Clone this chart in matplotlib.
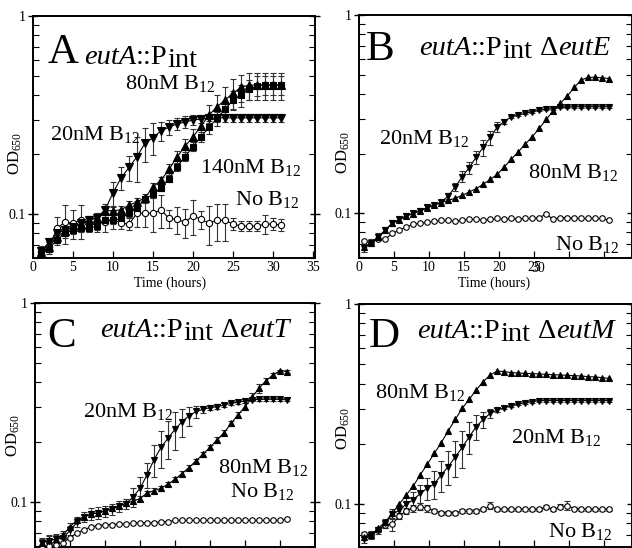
import matplotlib
matplotlib.use("Agg")
import matplotlib.pyplot as plt
from matplotlib.ticker import LogLocator, NullFormatter, FixedLocator, FixedFormatter

plt.rcParams['font.family'] = ['Liberation Serif', 'DejaVu Serif']
plt.rcParams['mathtext.fontset'] = 'custom'
plt.rcParams['mathtext.rm'] = 'Liberation Serif'
plt.rcParams['mathtext.it'] = 'Liberation Serif:italic'

# ---------------- data ----------------
A_t = list(range(1, 32))
A_140 = [0.063, 0.067, 0.074, 0.080, 0.083, 0.085, 0.085, 0.087, 0.093, 0.093, 0.095, 0.101, 0.107,
         0.119, 0.126, 0.136, 0.151, 0.173, 0.195, 0.219, 0.246, 0.274, 0.304, 0.338, 0.376, 0.399,
         0.426, 0.445, 0.448, 0.448, 0.448]
A_140_err = [0.004, 0.004, 0.004, 0.004, 0.004, 0.004, 0.004, 0.004, 0.004, 0.004, 0.004, 0.004, 0.005,
             0.005, 0.005, 0.005, 0.006, 0.008, 0.010, 0.012, 0.015, 0.020, 0.025, 0.030, 0.040, 0.050,
             0.050, 0.050, 0.050, 0.050, 0.050]
A_80 = [0.064, 0.068, 0.077, 0.082, 0.086, 0.088, 0.093, 0.096, 0.104, 0.104, 0.105, 0.111, 0.115,
        0.121, 0.137, 0.148, 0.168, 0.194, 0.220, 0.245, 0.278, 0.316, 0.348, 0.376, 0.408, 0.436,
        0.448, 0.448, 0.448, 0.448, 0.448]
A_80_err = [0.004, 0.004, 0.004, 0.004, 0.004, 0.004, 0.005, 0.005, 0.005, 0.005, 0.005, 0.005, 0.005,
            0.006, 0.006, 0.006, 0.010, 0.015, 0.020, 0.025, 0.030, 0.040, 0.050, 0.060, 0.070, 0.070,
            0.070, 0.070, 0.070, 0.070, 0.070]
A_20 = [0.065, 0.072, 0.080, 0.083, 0.086, 0.090, 0.093, 0.096, 0.105, 0.128, 0.152, 0.172, 0.195,
        0.228, 0.243, 0.263, 0.275, 0.285, 0.292, 0.298, 0.302, 0.304, 0.306, 0.306, 0.306, 0.306,
        0.306, 0.306, 0.306, 0.306, 0.306]
A_20_err = [0.004, 0.004, 0.004, 0.004, 0.004, 0.004, 0.004, 0.004, 0.008, 0.018, 0.020, 0.025, 0.050,
            0.045, 0.045, 0.030, 0.023, 0.020, 0.020, 0.018, 0.015, 0.015, 0.015, 0.015, 0.015, 0.015,
            0.015, 0.015, 0.015, 0.015, 0.015]
A_0 = [0.064, 0.068, 0.085, 0.091, 0.090, 0.093, 0.090, 0.091, 0.091, 0.094, 0.090, 0.089, 0.101,
       0.101, 0.101, 0.105, 0.095, 0.094, 0.091, 0.098, 0.094, 0.090, 0.093, 0.093, 0.089, 0.087,
       0.087, 0.087, 0.089, 0.089, 0.088]
A_0_err = [0.004, 0.004, 0.012, 0.020, 0.015, 0.018, 0.008, 0.010, 0.010, 0.010, 0.006, 0.006, 0.015,
           0.015, 0.020, 0.020, 0.010, 0.015, 0.015, 0.020, 0.010, 0.020, 0.020, 0.020, 0.006, 0.005,
           0.005, 0.005, 0.010, 0.006, 0.006]

B_t = [0.75, 1.75, 2.75, 3.75, 4.75, 5.75, 6.75, 7.75, 8.75, 9.75, 10.75, 11.75, 12.75, 13.75, 14.75,
       15.75, 16.75, 17.75, 18.75, 19.75, 20.75, 21.75, 22.75, 23.75, 24.75, 25.75, 26.75, 27.75,
       28.75, 29.75, 30.75, 31.75, 32.75, 33.75, 34.75, 35.75]
B_80 = [0.0676, 0.0708, 0.0759, 0.0820, 0.0887, 0.0929, 0.0966, 0.0996, 0.103, 0.106, 0.110, 0.113,
        0.116, 0.119, 0.123, 0.128, 0.133, 0.140, 0.148, 0.157, 0.171, 0.187, 0.204, 0.223, 0.243,
        0.268, 0.297, 0.329, 0.358, 0.390, 0.431, 0.470, 0.485, 0.485, 0.482, 0.478]
B_20 = [0.067, 0.071, 0.076, 0.082, 0.089, 0.093, 0.097, 0.100, 0.103, 0.107, 0.110, 0.114, 0.122,
        0.136, 0.153, 0.170, 0.192, 0.215, 0.241, 0.272, 0.290, 0.306, 0.313, 0.319, 0.325, 0.331,
        0.334, 0.337, 0.342, 0.342, 0.344, 0.344, 0.344, 0.344, 0.344, 0.344]
B_20_err = [0.003, 0.003, 0.003, 0.003, 0.003, 0.003, 0.003, 0.003, 0.003, 0.003, 0.003, 0.003, 0.004,
            0.006, 0.010, 0.012, 0.015, 0.020, 0.020, 0.015, 0.008, 0.005, 0.004, 0.004, 0.004, 0.004,
            0.004, 0.004, 0.004, 0.004, 0.004, 0.004, 0.004, 0.004, 0.004, 0.004]
B_0 = [0.072, 0.071, 0.074, 0.074, 0.079, 0.082, 0.085, 0.088, 0.089, 0.090, 0.091, 0.092, 0.092,
       0.091, 0.092, 0.093, 0.093, 0.092, 0.093, 0.094, 0.093, 0.094, 0.093, 0.094, 0.094, 0.095,
       0.099, 0.093, 0.095, 0.095, 0.094, 0.094, 0.094, 0.094, 0.094, 0.092]

C_t = list(range(1, 37))
C_80 = [0.0625, 0.0644, 0.065, 0.0683, 0.0751, 0.0812, 0.0844, 0.0871, 0.088, 0.0904, 0.093, 0.0958,
        0.0985, 0.101, 0.104, 0.111, 0.114, 0.117, 0.123, 0.130, 0.139, 0.149, 0.161, 0.174, 0.188,
        0.205, 0.223, 0.248, 0.274, 0.301, 0.336, 0.373, 0.407, 0.435, 0.457, 0.452]
C_80_err = [0.003, 0.003, 0.003, 0.003, 0.003, 0.003, 0.003, 0.003, 0.003, 0.003, 0.003, 0.003,
            0.003, 0.003, 0.003, 0.003, 0.003, 0.003, 0.003, 0.004, 0.004, 0.004, 0.004, 0.005, 0.005,
            0.006, 0.006, 0.008, 0.010, 0.012, 0.015, 0.020, 0.015, 0.010, 0.006, 0.006]
C_20 = [0.062, 0.064, 0.065, 0.066, 0.072, 0.079, 0.084, 0.087, 0.088, 0.090, 0.092, 0.095, 0.098,
        0.106, 0.117, 0.137, 0.163, 0.188, 0.209, 0.232, 0.253, 0.271, 0.285, 0.292, 0.298, 0.301,
        0.307, 0.313, 0.317, 0.322, 0.326, 0.328, 0.328, 0.328, 0.328, 0.326]
C_20_err = [0.004, 0.004, 0.004, 0.004, 0.004, 0.004, 0.005, 0.006, 0.006, 0.006, 0.006, 0.006, 0.006,
            0.012, 0.016, 0.020, 0.030, 0.040, 0.045, 0.050, 0.040, 0.030, 0.020, 0.012, 0.008, 0.008,
            0.006, 0.006, 0.006, 0.006, 0.006, 0.006, 0.006, 0.006, 0.006, 0.006]
C_0 = [0.060, 0.060, 0.061, 0.0625, 0.066, 0.070, 0.0725, 0.075, 0.076, 0.077, 0.077, 0.0776, 0.0776,
       0.0785, 0.0785, 0.0786, 0.0786, 0.0797, 0.0797, 0.0808, 0.0808, 0.0808, 0.0808, 0.0808, 0.0808,
       0.0808, 0.0808, 0.0808, 0.0808, 0.0808, 0.0808, 0.0808, 0.0808, 0.0808, 0.0808, 0.0821]

D_t = B_t
D_80 = [0.0687, 0.070, 0.0756, 0.0816, 0.0898, 0.100, 0.111, 0.123, 0.140, 0.158, 0.179, 0.203, 0.232,
        0.265, 0.301, 0.334, 0.372, 0.409, 0.442, 0.462, 0.459, 0.454, 0.452, 0.450, 0.449, 0.447,
        0.445, 0.443, 0.442, 0.440, 0.438, 0.437, 0.433, 0.432, 0.428, 0.425]
D_20 = [0.067, 0.070, 0.074, 0.080, 0.089, 0.093, 0.100, 0.105, 0.113, 0.120, 0.126, 0.140, 0.154,
        0.172, 0.192, 0.217, 0.244, 0.265, 0.284, 0.295, 0.303, 0.310, 0.316, 0.321, 0.325, 0.329,
        0.329, 0.329, 0.329, 0.329, 0.329, 0.329, 0.329, 0.329, 0.329, 0.329]
D_20_err = [0.003, 0.003, 0.003, 0.004, 0.005, 0.006, 0.008, 0.010, 0.012, 0.015, 0.020, 0.025, 0.030,
            0.035, 0.040, 0.040, 0.035, 0.025, 0.015, 0.008, 0.005, 0.004, 0.004, 0.004, 0.004, 0.004,
            0.004, 0.004, 0.004, 0.004, 0.004, 0.004, 0.004, 0.004, 0.004, 0.004]
D_0 = [0.0708, 0.070, 0.0741, 0.0785, 0.0794, 0.0871, 0.0926, 0.0953, 0.097, 0.0953, 0.0926, 0.0905,
       0.0905, 0.0905, 0.092, 0.092, 0.0926, 0.094, 0.098, 0.094, 0.094, 0.094, 0.094, 0.094, 0.094,
       0.094, 0.097, 0.094, 0.097, 0.098, 0.095, 0.094, 0.094, 0.094, 0.094, 0.094]
D_0_err = [0.002, 0.002, 0.002, 0.003, 0.006, 0.003, 0.003, 0.004, 0.004, 0.004, 0.002, 0.002, 0.002,
           0.002, 0.002, 0.002, 0.002, 0.002, 0.004, 0.002, 0.002, 0.002, 0.002, 0.002, 0.002, 0.002,
           0.002, 0.002, 0.003, 0.005, 0.002, 0.002, 0.002, 0.002, 0.002, 0.002]

x_ticks = [0, 5, 10, 15, 20, 25, 30, 35]

# ---------------- figure ----------------
W, H = 632, 548
fig = plt.figure(figsize=(W / 100, H / 100), dpi=100)


def fx(px):
    return px / W


def fy(py):
    return 1 - py / H


def make_ax(left, top, right, bottom, xmax, ymin):
    ax = fig.add_axes([fx(left), fy(bottom), (right - left) / W, (bottom - top) / H])
    ax.set_yscale('log')
    ax.set_xlim(0, xmax)
    ax.set_ylim(ymin, 1)
    for s in ax.spines.values():
        s.set_linewidth(1.4)
    ax.yaxis.set_major_locator(FixedLocator([0.1, 1]))
    ax.yaxis.set_major_formatter(FixedFormatter(['0.1', '1']))
    ax.yaxis.set_minor_locator(LogLocator(base=10, subs=[2, 3, 4, 5, 6, 7, 8, 9]))
    ax.yaxis.set_minor_formatter(NullFormatter())
    ax.tick_params(axis='y', which='major', direction='inout', length=7, width=1.0,
                   labelsize=10, pad=2, right=True)
    ax.tick_params(axis='y', which='minor', direction='in', length=4, width=0.8, right=True)
    ax.xaxis.set_major_locator(FixedLocator(x_ticks))
    ax.tick_params(axis='x', which='major', direction='in', length=5, width=0.9,
                   labelsize=10, pad=2)
    return ax


def series(ax, t, y, err, marker, ms, filled=True):
    if err is not None:
        ax.errorbar(t, y, yerr=err, fmt='none', ecolor='#333333', elinewidth=0.8,
                    capsize=2, capthick=0.8, zorder=2)
    ax.plot(t, y, color='black', lw=0.8, marker=marker, ms=ms,
            mfc='black' if filled else 'white', mec='black', mew=0.8, zorder=3)


renderer = fig.canvas.get_renderer()


def rich(px, py, parts, size):
    x = fx(px)
    for s, style, dy in parts:
        t = fig.text(x, fy(py + dy), s, fontsize=size, fontstyle=style, va='baseline', ha='left')
        bb = t.get_window_extent(renderer)
        x = fig.transFigure.inverted().transform((bb.x1, bb.y0))[0]
    return x


def label(px, py, s, size=16):
    fig.text(fx(px), fy(py), s, fontsize=size, va='baseline', ha='left')


# Panel A
axA = make_ax(33, 16, 315, 258, 35.25, 0.060)
series(axA, A_t, A_0, A_0_err, 'o', 4.5, filled=False)
series(axA, A_t, A_20, A_20_err, 'v', 5.5)
series(axA, A_t, A_140, A_140_err, 's', 5.0)
series(axA, A_t, A_80, A_80_err, '^', 5.5)
axA.set_xticklabels([str(v) for v in x_ticks])

# Panel B
axB = make_ax(359, 15, 632, 258, 39, 0.0594)
series(axB, B_t, B_0, None, 'o', 4.0, filled=False)
series(axB, B_t, B_20, B_20_err, 'v', 4.8)
series(axB, B_t, B_80, None, '^', 4.8)
axB.set_xticklabels(['0', '5', '10', '15', '20', '25', '', ''])
fig.text(fx(359 + 7 * 25 + 4), fy(268), '30', fontsize=10, ha='center', va='center')

# Panel C
axC = make_ax(35, 303, 315, 547, 40, 0.0594)
series(axC, C_t, C_0, None, 'o', 4.0, filled=False)
series(axC, C_t, C_20, C_20_err, 'v', 4.8)
series(axC, C_t, C_80, C_80_err, '^', 4.8)
axC.set_xticklabels([])

# Panel D
axD = make_ax(359, 304, 632, 547, 39, 0.061)
series(axD, D_t, D_0, D_0_err, 'o', 4.0, filled=False)
series(axD, D_t, D_20, D_20_err, 'v', 4.8)
series(axD, D_t, D_80, None, '^', 4.8)
axD.set_xticklabels([])

# axis labels
for cx in (170, 494):
    fig.text(fx(cx), fy(283), 'Time (hours)', fontsize=10, ha='center', va='center')
for cx, cy in ((15, 153), (343, 152), (13, 435), (343, 428)):
    fig.text(fx(cx), fy(cy), r'OD$_{650}$', fontsize=12, rotation=90, ha='center', va='center')

# panel letters and titles
for px, py, letter in ((48, 63, 'A'), (366, 60, 'B'), (47, 347, 'C'), (369, 347, 'D')):
    fig.text(fx(px), fy(py), letter, fontsize=31, va='baseline', ha='left')

TS = 20.5
rich(84, 64, [('eutA', 'italic', 0), ('::P', 'normal', 0), ('int', 'normal', 3)], TS)
xe = rich(419, 55, [('eutA', 'italic', 0), ('::P', 'normal', 0), ('int', 'normal', 3)], TS)
rich(xe * W + 7, 55, [('\u0394', 'normal', 0), ('eutE', 'italic', 0)], TS)
xe = rich(100, 337, [('eutA', 'italic', 0), ('::P', 'normal', 0), ('int', 'normal', 3)], TS)
rich(xe * W + 7, 337, [('\u0394', 'normal', 0), ('eutT', 'italic', 0)], TS)
xe = rich(417, 338, [('eutA', 'italic', 0), ('::P', 'normal', 0), ('int', 'normal', 3)], TS)
rich(xe * W + 7, 338, [('\u0394', 'normal', 0), ('eutM', 'italic', 0)], TS)

# curve labels
LS = 16
label(125, 89, r'80nM B$_{12}$', LS)
label(50, 140, r'20nM B$_{12}$', LS)
label(200, 173, r'140nM B$_{12}$', LS)
label(235, 205, r'No B$_{12}$', LS)

label(379, 144, r'20nM B$_{12}$', LS)
label(528, 178, r'80nM B$_{12}$', LS)
label(555, 250, r'No B$_{12}$', LS)

label(83, 417, r'20nM B$_{12}$', LS)
label(218, 473, r'80nM B$_{12}$', LS)
label(230, 497, r'No B$_{12}$', LS)

label(375, 398, r'80nM B$_{12}$', LS)
label(511, 443, r'20nM B$_{12}$', LS)
label(548, 537, r'No B$_{12}$', LS)

fig.savefig('out.png', dpi=100)
